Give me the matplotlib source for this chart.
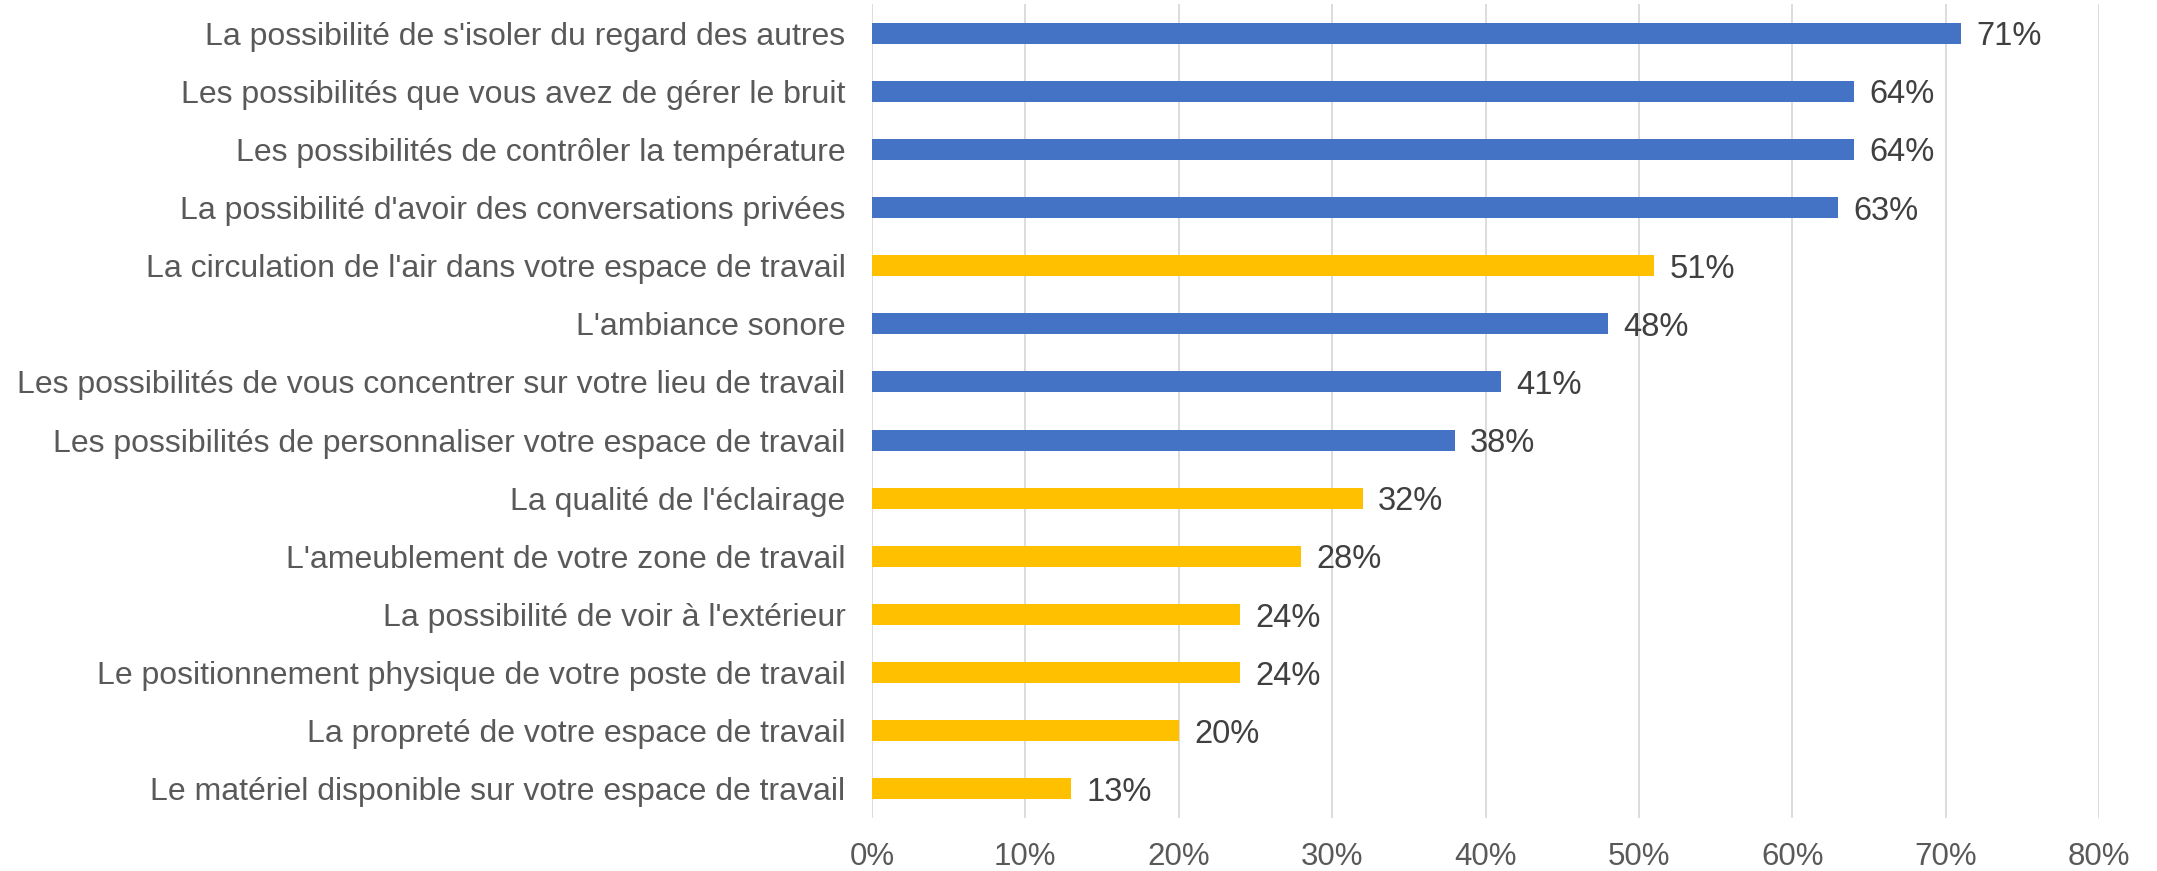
import matplotlib
matplotlib.use("Agg")
import matplotlib.pyplot as plt

categories = [
    "La possibilité de s'isoler du regard des autres",
    "Les possibilités que vous avez de gérer le bruit",
    "Les possibilités de contrôler la température",
    "La possibilité d'avoir des conversations privées",
    "La circulation de l'air dans votre espace de travail",
    "L'ambiance sonore",
    "Les possibilités de vous concentrer sur votre lieu de travail",
    "Les possibilités de personnaliser votre espace de travail",
    "La qualité de l'éclairage",
    "L'ameublement de votre zone de travail",
    "La possibilité de voir à l'extérieur",
    "Le positionnement physique de votre poste de travail",
    "La propreté de votre espace de travail",
    "Le matériel disponible sur votre espace de travail",
]
values = [71, 64, 64, 63, 51, 48, 41, 38, 32, 28, 24, 24, 20, 13]
groups = ["b", "b", "b", "b", "y", "b", "b", "b", "y", "y", "y", "y", "y", "y"]
xticks = [0, 10, 20, 30, 40, 50, 60, 70, 80]

palette = {"b": "#4472C4", "y": "#FFC000"}
colors = [palette[g] for g in groups]

plt.rcParams["font.family"] = ["Liberation Sans", "DejaVu Sans"]

fig = plt.figure(figsize=(21.57, 8.71), dpi=100)
ax = fig.add_axes([872 / 2157, 1 - 818 / 871, (2099 - 872) / 2157, (818 - 4) / 871])

y = list(range(len(categories)))
bars = ax.barh(y, values, height=0.36, color=colors, zorder=3)
for b, v in zip(bars, values):
    ax.annotate(f"{v}%", (b.get_width(), b.get_y() + b.get_height() / 2),
                xytext=(11, 0), textcoords="offset points", va="center_baseline", ha="left",
                fontsize=23.5, color="#404040")

ax.set_ylim(len(categories) - 0.5, -0.5)
ax.set_xlim(0, 80)
ax.set_xticks(xticks)
ax.set_xticklabels([f"{t}%" for t in xticks])
ax.set_yticks(y)
ax.set_yticklabels(categories, va="center_baseline")
ax.tick_params(axis="y", length=0, pad=19, labelsize=23, labelcolor="#595959")
ax.tick_params(axis="x", length=0, pad=17, labelsize=22.5, labelcolor="#595959")
ax.grid(axis="x", color="#D9D9D9", linewidth=1.3, zorder=0)
for s in ax.spines.values():
    s.set_visible(False)

fig.savefig("out.png", dpi=100)
